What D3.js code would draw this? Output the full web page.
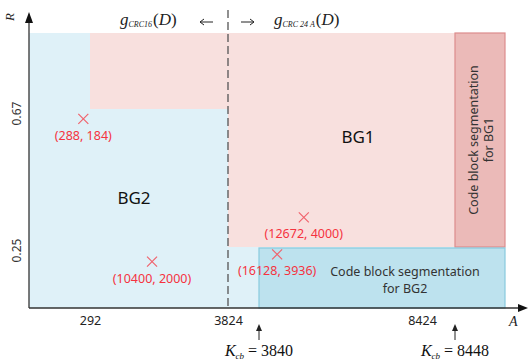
<!DOCTYPE html>
<html>
<head>
<meta charset="utf-8">
<script src="https://cdn.jsdelivr.net/npm/d3@7"></script>
<style>
  body { margin: 0; background: #fff; }
  svg { display: block; }
  .lbl { font-family: "Noto Sans", "Open Sans", sans-serif; }
  .math { font-family: "Liberation Serif", "DejaVu Serif", serif; }
</style>
</head>
<body>
<div class="container"></div>
<script>
// axis ticks (schematic axis, values placed by a piecewise scale)
const xBreaks = [0, 292, 3824, 3840, 8424, 8448, 8700];
const yBreaks = [0, 0.25, 0.67, 1];
const xTicks = [292, 3824, 8424];
const yTicks = [0.25, 0.67];
const kcbValues = [3840, 8448];
const crcSplit = 3824;

// marked points: position on the chart (A, R) and their labels
const pointA = [260, 1880, 5100, 4350];
const pointR = [0.64, 0.19, 0.34, 0.22];
const pointLabels = ["(288, 184)", "(10400, 2000)", "(12672, 4000)", "(16128, 3936)"];

const width = 528, height = 362;

const x = d3.scaleLinear().domain(xBreaks).range([29, 90, 228, 259, 422, 455, 505]);
const y = d3.scaleLinear().domain(yBreaks).range([308, 247, 109, 33]);

const svg = d3.select('.container').append('svg')
  .attr('width', width)
  .attr('height', height);

const aMax = xBreaks[xBreaks.length - 1];

// background regions
svg.append('rect')
  .attr('x', x(0)).attr('y', y(1))
  .attr('width', x(aMax) - x(0)).attr('height', y(0) - y(1))
  .attr('fill', '#dff1f8');

// BG1 region (pink step)
const pinkPts = [[292, 1], [aMax, 1], [aMax, 0.25], [crcSplit, 0.25], [crcSplit, 0.67], [292, 0.67]];
svg.append('path')
  .attr('d', d3.line().x(d => x(d[0])).y(d => y(d[1]))(pinkPts) + 'Z')
  .attr('fill', '#f8e0de');

// code block segmentation boxes
svg.append('rect')
  .attr('x', x(kcbValues[1])).attr('y', y(1))
  .attr('width', x(aMax) - x(kcbValues[1])).attr('height', y(0.25) - y(1))
  .attr('fill', '#ebbab8').attr('stroke', '#dc8c8c').attr('stroke-width', 1.2);

svg.append('rect')
  .attr('x', x(kcbValues[0])).attr('y', y(0.25) + 1)
  .attr('width', x(aMax) - x(kcbValues[0])).attr('height', y(0) - y(0.25) - 1)
  .attr('fill', '#bde2ee').attr('stroke', '#88cade').attr('stroke-width', 1.2);

// dashed split line
svg.append('line')
  .attr('x1', x(crcSplit)).attr('x2', x(crcSplit))
  .attr('y1', 10).attr('y2', y(0))
  .attr('stroke', '#555').attr('stroke-width', 1.3)
  .attr('stroke-dasharray', '8,4');

// axes (no tick marks)
const xAxis = svg.append('g')
  .attr('transform', `translate(0,${y(0)})`)
  .call(d3.axisBottom(x).tickValues(xTicks).tickSize(0).tickPadding(8).tickFormat(d3.format('d')));
xAxis.select('.domain').remove();
xAxis.selectAll('text').attr('class', 'lbl').attr('font-size', 12.5).attr('fill', '#222');

const yAxis = svg.append('g')
  .attr('transform', `translate(${x(0)},0)`)
  .call(d3.axisLeft(y).tickValues(yTicks).tickSize(0).tickFormat(d3.format('.2f')));
yAxis.select('.domain').remove();
yAxis.selectAll('text')
  .attr('class', 'lbl').attr('font-size', 12).attr('fill', '#333')
  .attr('text-anchor', 'middle').attr('x', 0).attr('dy', 0)
  .attr('transform', d => `translate(-8,${d === 0.67 ? 4 : 3}) rotate(-90)`);

// axis lines with arrow heads
svg.append('line')
  .attr('x1', x(0)).attr('x2', 519).attr('y1', y(0)).attr('y2', y(0))
  .attr('stroke', '#333').attr('stroke-width', 1.3);
svg.append('path').attr('d', `M528,${y(0)} L518,${y(0) - 4} L518,${y(0) + 4} Z`).attr('fill', '#111');
svg.append('line')
  .attr('x1', x(0)).attr('x2', x(0)).attr('y1', y(0)).attr('y2', 22)
  .attr('stroke', '#333').attr('stroke-width', 1.3);
svg.append('path').attr('d', `M${x(0)},12 L${x(0) - 4},23 L${x(0) + 4},23 Z`).attr('fill', '#111');

svg.append('text').attr('class', 'math')
  .attr('x', 509).attr('y', 326)
  .attr('font-size', 14).attr('font-style', 'italic').attr('fill', '#222')
  .text('A');
svg.append('text').attr('class', 'math')
  .attr('transform', 'translate(14,17) rotate(-90)')
  .attr('text-anchor', 'middle')
  .attr('font-size', 13).attr('font-style', 'italic').attr('fill', '#222')
  .text('R');

// region names
svg.append('text').attr('class', 'lbl')
  .attr('x', 134).attr('y', 204).attr('text-anchor', 'middle')
  .attr('font-size', 17).attr('fill', '#111').text('BG2');
svg.append('text').attr('class', 'lbl')
  .attr('x', 358).attr('y', 143).attr('text-anchor', 'middle')
  .attr('font-size', 17).attr('fill', '#111').text('BG1');

// box captions
const bg2Cap = svg.append('text').attr('class', 'lbl')
  .attr('text-anchor', 'middle').attr('font-size', 12.5).attr('fill', '#333');
bg2Cap.append('tspan').attr('x', 405).attr('y', 276).text('Code block segmentation');
bg2Cap.append('tspan').attr('x', 405).attr('y', 293).text('for BG2');

const bg1Cap = svg.append('text').attr('class', 'lbl')
  .attr('transform', 'translate(480,140) rotate(-90)')
  .attr('text-anchor', 'middle').attr('font-size', 12.5).attr('fill', '#333');
bg1Cap.append('tspan').attr('x', 0).attr('y', -2).text('Code block segmentation');
bg1Cap.append('tspan').attr('x', 0).attr('y', 13).text('for BG1');

// marked points
pointA.forEach((a, i) => {
  const px = x(a), py = y(pointR[i]);
  const s = 5;
  svg.append('path')
    .attr('d', `M${px - s},${py - s} L${px + s},${py + s} M${px - s},${py + s} L${px + s},${py - s}`)
    .attr('stroke', '#f0646e').attr('stroke-width', 1.2).attr('fill', 'none');
  svg.append('text').attr('class', 'lbl')
    .attr('x', px).attr('y', py + 21).attr('text-anchor', 'middle')
    .attr('font-size', 12.5).attr('fill', '#f5333f')
    .text(pointLabels[i]);
});

// CRC labels on top
function gLabel(xPos, sub) {
  const t = svg.append('text').attr('class', 'math')
    .attr('x', xPos).attr('y', 25).attr('fill', '#222').attr('font-size', 17);
  t.append('tspan').attr('font-style', 'italic').text('g');
  t.append('tspan').attr('font-style', 'italic').attr('font-size', 8).attr('dy', 2).text(sub);
  t.append('tspan').attr('dy', -2).attr('dx', 1).text('(');
  t.append('tspan').attr('font-style', 'italic').text('D');
  t.append('tspan').text(')');
}
gLabel(120, 'CRC16');
gLabel(274, 'CRC 24 A');

// direction arrows around the split line
function hArrow(x1, x2) {
  const dir = Math.sign(x2 - x1);
  svg.append('line')
    .attr('x1', x1).attr('x2', x2).attr('y1', 22).attr('y2', 22)
    .attr('stroke', '#222').attr('stroke-width', 1);
  svg.append('path')
    .attr('d', `M${x2 - dir * 4},19 L${x2},22 L${x2 - dir * 4},25`)
    .attr('stroke', '#222').attr('stroke-width', 1).attr('fill', 'none');
}
hArrow(213, 200);
hArrow(241, 254);

// K_cb markers below the axis
kcbValues.forEach(k => {
  const kx = x(k);
  svg.append('line')
    .attr('x1', kx).attr('x2', kx).attr('y1', 340).attr('y2', 328)
    .attr('stroke', '#222').attr('stroke-width', 1);
  svg.append('path')
    .attr('d', `M${kx},324 L${kx - 3},331 L${kx + 3},331 Z`).attr('fill', '#222');
  const t = svg.append('text').attr('class', 'math')
    .attr('x', kx).attr('y', 356).attr('text-anchor', 'middle')
    .attr('font-size', 16).attr('fill', '#111');
  t.append('tspan').attr('font-style', 'italic').text('K');
  t.append('tspan').attr('font-style', 'italic').attr('font-size', 9).attr('dy', 3).text('cb');
  t.append('tspan').attr('dy', -3).text(' = ' + k);
});
</script>
</body>
</html>
